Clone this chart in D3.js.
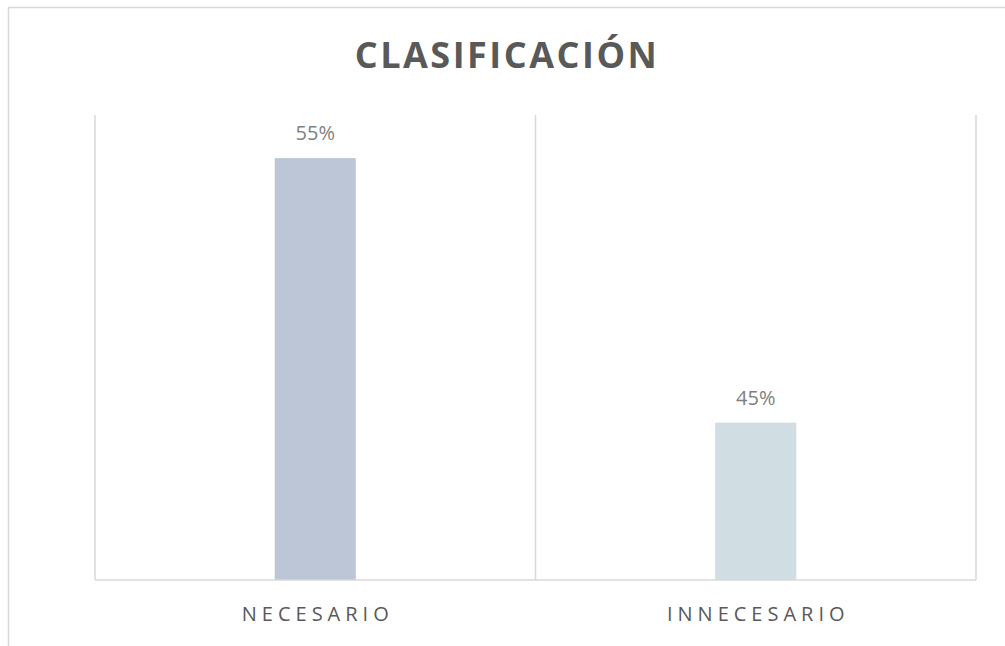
<!DOCTYPE html>
<html><head><meta charset="utf-8">
<script src="https://cdn.jsdelivr.net/npm/d3@7"></script>
<style>html,body{margin:0;padding:0;background:#fff;}svg{display:block;}</style>
</head><body>
<svg id="c" width="1005" height="646"></svg>
<script>
const categories = ["NECESARIO", "INNECESARIO"];
const values = [55, 45];
const valueLabels = ["55%", "45%"];
const colors = ["#BCC6D7", "#D0DDE2"];
const yDomain = [39.05, 56.63];
const title = "CLASIFICACIÓN";

(function () {
const svg = d3.select("#c");
svg.append("rect").attr("x", 8.5).attr("y", 7.5).attr("width", 1010).attr("height", 660)
  .attr("fill", "#fff").attr("stroke", "#d9d9d9").attr("stroke-width", 1.5);

const pL = 95, pR = 976, pT = 115, pB = 580;
const x = d3.scaleBand().domain(categories).range([pL, pR]).padding(0);
const y = d3.scaleLinear().domain(yDomain).range([pB, pT]);
const barW = x.bandwidth() * 0.184;

const gx = [pL, ...categories.map(c => x(c) + x.bandwidth())];
svg.selectAll("line.g").data(gx).enter().append("line")
  .attr("x1", d => d).attr("x2", d => d).attr("y1", pT).attr("y2", pB)
  .attr("stroke", "#d9d9d9").attr("stroke-width", 1.5);

svg.selectAll("rect.bar").data(values).enter().append("rect")
  .attr("x", (d, i) => x(categories[i]) + x.bandwidth() / 2 - barW / 2)
  .attr("y", d => y(d)).attr("width", barW).attr("height", d => pB - y(d))
  .attr("fill", (d, i) => colors[i]);

svg.append("line").attr("x1", pL).attr("x2", pR).attr("y1", pB).attr("y2", pB)
  .attr("stroke", "#d9d9d9").attr("stroke-width", 1.5);

svg.selectAll("text.v").data(values).enter().append("text")
  .attr("x", (d, i) => x(categories[i]) + x.bandwidth() / 2)
  .attr("y", d => y(d) - 18).attr("text-anchor", "middle")
  .attr("font-family", "'Open Sans', sans-serif").attr("font-size", 20)
  .attr("fill", "#7f7f7f").text((d, i) => valueLabels[i]);

svg.selectAll("text.cat").data(categories).enter().append("text")
  .attr("x", d => x(d) + x.bandwidth() / 2 + 2.5).attr("y", 621).attr("text-anchor", "middle")
  .attr("font-family", "'Open Sans', sans-serif").attr("font-size", 20)
  .attr("letter-spacing", "5px")
  .attr("fill", "#595959").text(d => d);

svg.append("text").attr("x", 507).attr("y", 68).attr("text-anchor", "middle")
  .attr("font-family", "'Open Sans', sans-serif").attr("font-size", 36).attr("font-weight", "bold")
  .attr("letter-spacing", "2.5px")
  .attr("fill", "#595959").text(title);
})();
</script>
</body></html>
